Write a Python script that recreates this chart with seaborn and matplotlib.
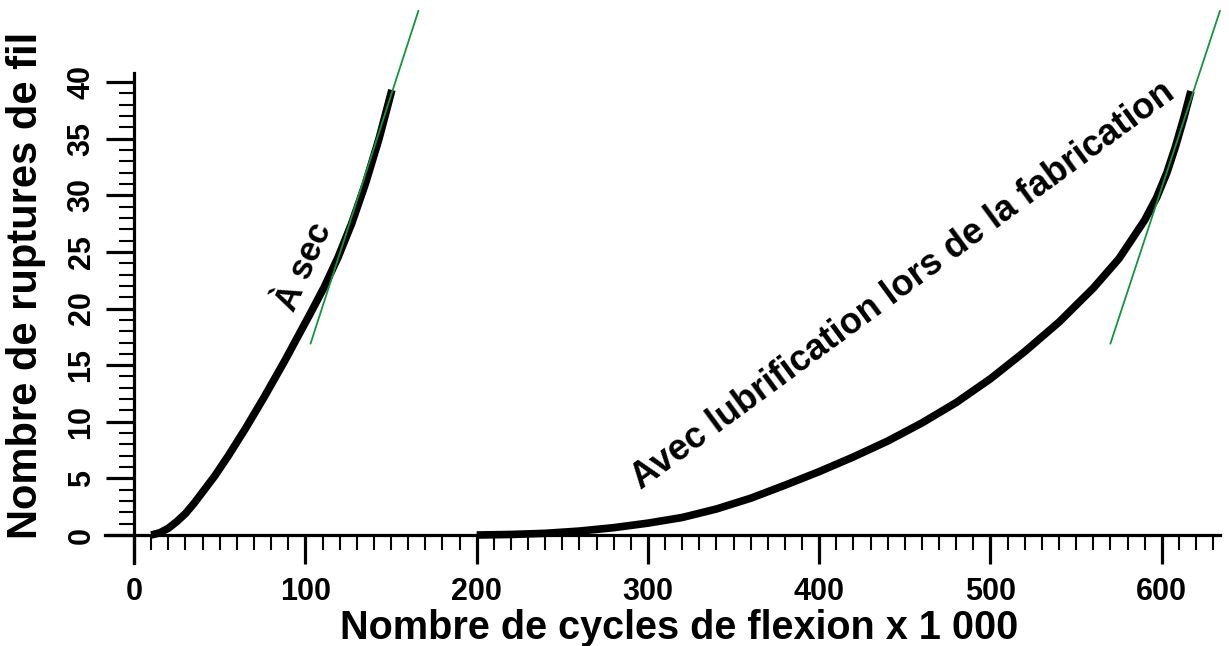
import matplotlib

matplotlib.use("Agg")
import matplotlib.pyplot as plt
import pandas as pd
import seaborn as sns
from matplotlib.ticker import FixedLocator

# values
dry_x = [10, 15, 20, 25, 30, 35, 40, 47, 55, 65, 76, 88, 103, 111, 119,
         127, 135, 143, 150.5]
dry_y = [0, 0.2, 0.6, 1.2, 1.9, 2.8, 3.8, 5.2, 7.0, 9.4, 12.2, 15.4, 19.6,
         21.9, 24.5, 27.5, 31.0, 35.0, 39.3]

lub_x = [200, 220, 240, 260, 280, 300, 320, 340, 360, 380, 400, 420, 440,
         460, 480, 500, 520, 540, 560, 575, 590, 597, 603, 608, 613, 617]
lub_y = [0, 0.05, 0.15, 0.35, 0.65, 1.05, 1.55, 2.3, 3.25, 4.4, 5.6, 6.9, 8.3,
         9.9, 11.7, 13.8, 16.2, 18.8, 21.8, 24.4, 27.8, 29.8, 32.0, 34.3,
         36.9, 39.2]

# green tangent lines (end points)
tan_dry_x = [103, 166]
tan_dry_y = [16.9, 46.3]
tan_lub_x = [570, 634]
tan_lub_y = [16.9, 46.3]

x_major = [0, 100, 200, 300, 400, 500, 600]
x_minor = list(range(0, 640, 10))
y_major = [0, 5, 10, 15, 20, 25, 30, 35, 40]
y_minor = list(range(0, 41))

sns.set_style("ticks")
plt.rcParams["font.family"] = ["Liberation Sans", "DejaVu Sans"]
plt.rcParams["font.weight"] = "bold"
plt.rcParams["text.color"] = "black"
plt.rcParams["axes.labelcolor"] = "black"
plt.rcParams["xtick.color"] = "black"
plt.rcParams["ytick.color"] = "black"
plt.rcParams["axes.edgecolor"] = "black"

df = pd.concat(
    [
        pd.DataFrame({"x": dry_x, "y": dry_y, "serie": "dry"}),
        pd.DataFrame({"x": lub_x, "y": lub_y, "serie": "lub"}),
    ]
)

fig = plt.figure(figsize=(12.29, 6.46), dpi=100)
ax = fig.add_axes([105 / 1229, 83 / 646, 1115 / 1229, 490 / 646])

for name, grp in df.groupby("serie"):
    sns.lineplot(data=grp, x="x", y="y", ax=ax, color="black", lw=5.5,
                 solid_capstyle="butt", legend=False)

ax.plot(tan_dry_x, tan_dry_y, color="#13963a", lw=1.3, clip_on=False)
ax.plot(tan_lub_x, tan_lub_y, color="#13963a", lw=1.3, clip_on=False)

ax.set_xlim(-17, 634)
ax.set_ylim(-2.47, 40.8)

for side in ["top", "right"]:
    ax.spines[side].set_visible(False)
ax.spines["left"].set_position(("data", 0))
ax.spines["bottom"].set_position(("data", 0))
ax.spines["left"].set_linewidth(2.3)
ax.spines["bottom"].set_linewidth(2.3)

ax.xaxis.set_major_locator(FixedLocator(x_major))
ax.xaxis.set_minor_locator(FixedLocator(x_minor))
ax.yaxis.set_major_locator(FixedLocator(y_major))
ax.yaxis.set_minor_locator(FixedLocator(y_minor))

ax.tick_params(axis="x", which="major", length=21, width=2.3, pad=9,
               labelsize=22)
ax.tick_params(axis="x", which="minor", length=11, width=1.5)
ax.tick_params(axis="y", which="major", length=20, width=2.3, pad=7,
               labelsize=22, labelrotation=90)
ax.tick_params(axis="y", which="minor", length=11, width=1.5)
for lab in ax.get_yticklabels():
    lab.set_verticalalignment("center")
for lab in ax.get_xticklabels() + ax.get_yticklabels():
    lab.set_fontweight("bold")

ax.set_xlabel("Nombre de cycles de flexion x 1 000", fontsize=28.5,
              fontweight="bold")
ax.set_ylabel("Nombre de ruptures de fil", fontsize=30, fontweight="bold")
ax.xaxis.set_label_coords(0.515, -0.093)
ax.yaxis.set_label_coords(-0.053, 0.567)

ax.text(93.1, 19.6, "À sec", rotation=66, rotation_mode="anchor",
        ha="left", va="baseline", fontsize=25, fontweight="bold")
ax.text(296, 4.0, "Avec lubrification lors de la fabrication", rotation=36.3,
        rotation_mode="anchor", ha="left", va="baseline", fontsize=26,
        fontweight="bold")

fig.savefig("out.png", dpi=100, facecolor="white")
